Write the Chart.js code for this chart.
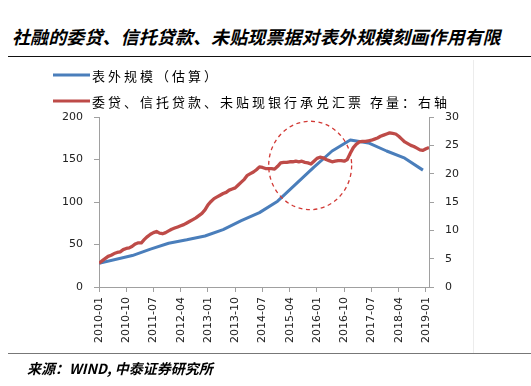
<!DOCTYPE html>
<html>
<head>
<meta charset="utf-8">
<script src="https://cdn.jsdelivr.net/npm/chart.js@4/dist/chart.umd.min.js"></script>
<style>
html,body{margin:0;padding:0;background:#fff;}
#wrap{position:relative;width:531px;height:386px;overflow:hidden;background:#fff;}
#c{position:absolute;left:0;top:0;}
.title{position:absolute;left:12px;top:23px;font:italic 700 18px "Noto Sans CJK SC";color:#000;white-space:nowrap;letter-spacing:0.1px;}
.rule1{position:absolute;left:8px;top:56px;width:523px;height:0;border-top:1.5px solid #111;}
.rule2{position:absolute;left:8px;top:353px;width:523px;height:0;border-top:1.5px solid #777;}
.vline{position:absolute;left:473px;top:60px;width:0;height:293px;border-left:1px solid #ececec;}
.src{position:absolute;left:27px;top:358px;font:italic 600 14px "Noto Sans CJK SC";color:#000;white-space:nowrap;}
</style>
</head>
<body>
<div id="wrap">
  <div class="title">社融的委贷、信托贷款、未贴现票据对表外规模刻画作用有限</div>
  <div class="rule1"></div>
  <div class="vline"></div>
  <canvas id="c" width="531" height="386"></canvas>
  <div class="rule2"></div>
  <div class="src">来源：WIND, 中泰证券研究所</div>
</div>
<script>
// ---- categories (monthly) ----
const months = [
'2010-01','2010-02','2010-03','2010-04','2010-05','2010-06','2010-07','2010-08','2010-09','2010-10','2010-11','2010-12',
'2011-01','2011-02','2011-03','2011-04','2011-05','2011-06','2011-07','2011-08','2011-09','2011-10','2011-11','2011-12',
'2012-01','2012-02','2012-03','2012-04','2012-05','2012-06','2012-07','2012-08','2012-09','2012-10','2012-11','2012-12',
'2013-01','2013-02','2013-03','2013-04','2013-05','2013-06','2013-07','2013-08','2013-09','2013-10','2013-11','2013-12',
'2014-01','2014-02','2014-03','2014-04','2014-05','2014-06','2014-07','2014-08','2014-09','2014-10','2014-11','2014-12',
'2015-01','2015-02','2015-03','2015-04','2015-05','2015-06','2015-07','2015-08','2015-09','2015-10','2015-11','2015-12',
'2016-01','2016-02','2016-03','2016-04','2016-05','2016-06','2016-07','2016-08','2016-09','2016-10','2016-11','2016-12',
'2017-01','2017-02','2017-03','2017-04','2017-05','2017-06','2017-07','2017-08','2017-09','2017-10','2017-11','2017-12',
'2018-01','2018-02','2018-03','2018-04','2018-05','2018-06','2018-07','2018-08','2018-09','2018-10','2018-11','2018-12',
'2019-01','2019-02'
];
// x-axis tick labels shown
const tickLabels = ['2010-01','2010-10','2011-07','2012-04','2013-01','2013-10','2014-07','2015-04','2016-01','2016-10','2017-07','2018-04','2019-01'];

// ---- series 1: 表外规模（估算）, left axis, semi-annual estimates ----
const scaleDates  = ['2010-01','2010-12','2011-06','2011-12','2012-06','2012-12','2013-06','2013-12','2014-06','2014-12','2015-06','2015-12','2016-06','2016-12','2017-06','2017-12','2018-06','2018-12'];
const scaleValues = [28, 37, 44.6, 51.5, 55.5, 60, 67.5, 78, 87.5, 101, 121, 141, 160, 173, 169.5, 160, 151.5, 137.5];

// ---- series 2: 委贷、信托贷款、未贴现银行承兑汇票 存量, right axis (monthly) ----
const stockValues = [
4.2,4.6,5.0,5.4,5.6,5.9,6.1,6.2,6.6,6.8,
6.9,7.2,7.6,7.8,7.8,8.4,8.9,9.3,9.6,9.8,
9.5,9.4,9.6,9.9,10.2,10.4,10.6,10.8,11.0,11.3,
11.6,11.9,12.2,12.6,13.0,13.6,14.5,15.1,15.6,15.9,
16.2,16.5,16.7,17.1,17.3,17.5,18.0,18.5,19.0,19.7,
20.0,20.3,20.7,21.2,21.1,20.9,20.9,20.9,20.8,21.3,
21.9,22.0,22.0,22.1,22.1,22.2,22.1,22.2,22.0,21.9,
21.7,22.2,22.7,22.9,22.8,22.5,22.3,22.1,22.2,22.3,
22.3,22.2,22.5,23.6,24.6,25.2,25.6,25.7,25.7,25.8,
25.9,26.1,26.3,26.6,26.8,27.0,27.2,27.1,27.0,26.6,
26.1,25.6,25.3,25.0,24.8,24.5,24.2,24.1,24.4,24.6
];

// ---- axis ticks ----
const leftTicks  = [0, 50, 100, 150, 200];
const rightTicks = [0, 5, 10, 15, 20, 25, 30];

const AX = '#a0a0a0';
const tickFont = {family: 'DejaVu Sans', size: 11};

const legendPlugin = {
  id: 'customLegend',
  afterDraw(chart) {
    const ctx = chart.ctx;
    const rows = [75, 101];
    ctx.save();
    chart.data.datasets.forEach((ds, k) => {
      const y = rows[k];
      ctx.strokeStyle = ds.borderColor; ctx.lineWidth = 3; ctx.lineCap = 'butt';
      ctx.beginPath(); ctx.moveTo(53, y); ctx.lineTo(90, y); ctx.stroke();
      ctx.fillStyle = '#000';
      ctx.font = '13px "Noto Sans CJK SC"';
      ctx.letterSpacing = '3px';
      ctx.textBaseline = 'middle';
      ctx.textAlign = 'left';
      ctx.fillText(ds.label, 92, y + 1);
    });
    ctx.restore();
  }
};

// dashed ellipse highlighting 2015-2016 (placed in data coordinates)
const highlight = {cx: 69.75, cy: 143, rx: 13.7, ry: 52};
const ellipsePlugin = {
  id: 'ellipse',
  afterDatasetsDraw(chart) {
    const {x, y} = chart.scales;
    const ctx = chart.ctx;
    const px = x.getPixelForValue(highlight.cx), py = y.getPixelForValue(highlight.cy);
    const rx = x.getPixelForValue(highlight.cx + highlight.rx) - px;
    const ry = py - y.getPixelForValue(highlight.cy + highlight.ry);
    ctx.save();
    ctx.strokeStyle = '#d23a36'; ctx.lineWidth = 1.3; ctx.setLineDash([4, 3.5]);
    ctx.beginPath(); ctx.ellipse(px, py, rx, ry, 0, 0, Math.PI * 2); ctx.stroke();
    ctx.restore();
  }
};

new Chart(document.getElementById('c'), {
  type: 'line',
  data: {
    datasets: [
      {
        label: '表外规模（估算）',
        data: scaleDates.map((d, k) => ({x: months.indexOf(d), y: scaleValues[k]})),
        borderColor: '#4a7ebb', borderWidth: 3, pointRadius: 0, tension: 0,
        borderJoinStyle: 'round', yAxisID: 'y', order: 2
      },
      {
        label: '委贷、信托贷款、未贴现银行承兑汇票 存量：右轴',
        data: stockValues.map((v, i) => ({x: i, y: v})),
        borderColor: '#be4b48', borderWidth: 3.3, pointRadius: 0, tension: 0,
        borderJoinStyle: 'round', yAxisID: 'y1', order: 1
      }
    ]
  },
  options: {
    responsive: false, animation: false, devicePixelRatio: 1,
    layout: {padding: {top: 117, left: 0, right: 0, bottom: 0}},
    plugins: {legend: {display: false}, tooltip: {enabled: false}},
    scales: {
      x: {
        type: 'linear', min: 0, max: months.length - 1,
        afterFit: s => { s.height = 99; },
        afterBuildTicks: s => { s.ticks = tickLabels.map(t => ({value: months.indexOf(t)})); },
        ticks: {
          autoSkip: false, maxRotation: 90, minRotation: 90, padding: 5,
          color: '#222', font: tickFont,
          callback: v => months[v]
        },
        grid: {display: true, drawOnChartArea: false, drawTicks: true, tickLength: 5, color: AX},
        border: {display: true, color: AX, width: 1}
      },
      y: {
        position: 'left', min: 0, max: 200,
        afterFit: s => { s.width = 99; },
        afterBuildTicks: s => { s.ticks = leftTicks.map(v => ({value: v})); },
        ticks: {padding: 11, color: '#222', font: tickFont},
        grid: {display: true, drawOnChartArea: false, drawTicks: true, tickLength: 5, color: AX},
        border: {display: true, color: AX, width: 1}
      },
      y1: {
        position: 'right', min: 0, max: 30,
        afterFit: s => { s.width = 102; },
        afterBuildTicks: s => { s.ticks = rightTicks.map(v => ({value: v})); },
        ticks: {padding: 11, color: '#222', font: tickFont},
        grid: {display: true, drawOnChartArea: false, drawTicks: true, tickLength: 5, color: AX},
        border: {display: true, color: AX, width: 1}
      }
    }
  },
  plugins: [legendPlugin, ellipsePlugin]
});
</script>
</body>
</html>
